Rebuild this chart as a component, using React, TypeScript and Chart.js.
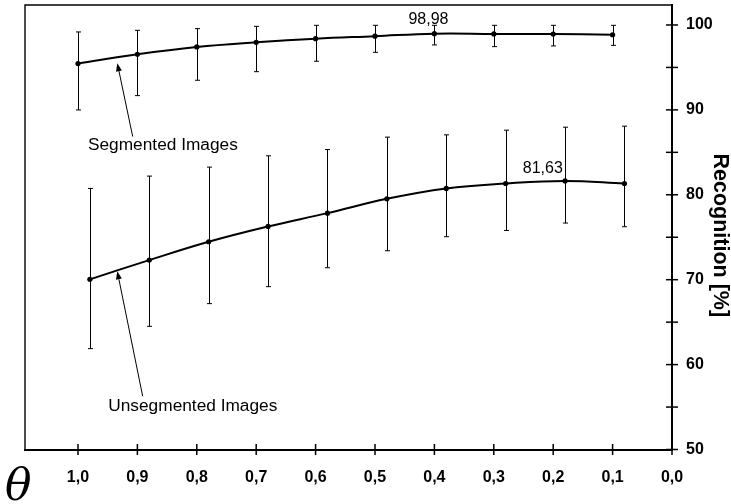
import React, { useEffect, useRef } from 'react';
import { Chart, registerables } from 'chart.js';

Chart.register(...registerables);

// ---- data ----
const X_TICKS = [0, 0.1, 0.2, 0.3, 0.4, 0.5, 0.6, 0.7, 0.8, 0.9, 1.0];
const Y_TICKS = [50, 55, 60, 65, 70, 75, 80, 85, 90, 95, 100];

const SEG_X = [1.0, 0.9, 0.8, 0.7, 0.6, 0.5, 0.4, 0.3, 0.2, 0.1];
const SEG_Y = [95.45, 96.55, 97.41, 97.96, 98.39, 98.68, 98.98, 98.95, 98.93, 98.85];
const SEG_LOW = [89.99, 91.68, 93.49, 94.5, 95.73, 96.78, 97.65, 97.45, 97.53, 97.6];
const SEG_HIGH = [99.18, 99.37, 99.57, 99.84, 99.96, 99.96, 99.96, 99.96, 99.96, 99.96];

const UNSEG_X = [0.98, 0.88, 0.78, 0.68, 0.58, 0.48, 0.38, 0.28, 0.18, 0.08];
const UNSEG_Y = [70.04, 72.31, 74.47, 76.27, 77.84, 79.53, 80.75, 81.33, 81.63, 81.33];
const UNSEG_LOW = [61.88, 64.51, 67.18, 69.18, 71.41, 73.41, 75.06, 75.8, 76.67, 76.24];
const UNSEG_HIGH = [80.75, 82.2, 83.26, 84.59, 85.33, 86.79, 87.06, 87.61, 87.96, 88.08];

const SERIES_LABELS = ['Segmented Images', 'Unsegmented Images'];
const Y_TITLE = 'Recognition [%]';
// annotation anchors in data units: [textX, textBaseY, arrowTailX, arrowTailY, arrowTipX, arrowTipY]
const SEG_NOTE = [0.9832, 85.29, 0.9079, 86.86, 0.9338, 95.49];
const UNSEG_NOTE = [0.949, 54.51, 0.8911, 56.27, 0.9338, 70.98];
// peak value labels: [x, y(baseline), text]
const PEAK_LABELS: [number, number, string][] = [
  [0.41, 100.12, '98,98'],
  [0.2175, 82.62, '81,63'],
];

const SANS = '"Liberation Sans", Arial, Helvetica, sans-serif';

const decorPlugin = {
  id: 'decor',
  beforeDatasetsDraw(chart: any) {
    const { ctx, chartArea } = chart;
    const xs = chart.scales.x;
    const ys = chart.scales.y;
    ctx.save();
    // top & left frame
    ctx.strokeStyle = '#000';
    ctx.lineWidth = 1.4;
    ctx.beginPath();
    ctx.moveTo(chartArea.left, chartArea.bottom);
    ctx.lineTo(chartArea.left, chartArea.top);
    ctx.lineTo(chartArea.right, chartArea.top);
    ctx.stroke();

    // tick marks crossing the axes
    ctx.lineWidth = 1.5;
    X_TICKS.forEach((v) => {
      const px = xs.getPixelForValue(v);
      ctx.beginPath();
      ctx.moveTo(px, chartArea.bottom - 5.5);
      ctx.lineTo(px, chartArea.bottom + 5.5);
      ctx.stroke();
    });
    Y_TICKS.forEach((v) => {
      const py = ys.getPixelForValue(v);
      ctx.beginPath();
      ctx.moveTo(chartArea.right - 6, py);
      ctx.lineTo(chartArea.right + 6, py);
      ctx.stroke();
    });

    // error bars
    ctx.lineWidth = 1;
    const bars = (X: number[], L: number[], H: number[]) => {
      X.forEach((x, i) => {
        const px = Math.round(xs.getPixelForValue(x)) + 0.5;
        const pl = ys.getPixelForValue(L[i]);
        const ph = ys.getPixelForValue(H[i]);
        ctx.beginPath();
        ctx.moveTo(px, pl);
        ctx.lineTo(px, ph);
        ctx.moveTo(px - 2.5, pl);
        ctx.lineTo(px + 2.5, pl);
        ctx.moveTo(px - 2.5, ph);
        ctx.lineTo(px + 2.5, ph);
        ctx.stroke();
      });
    };
    bars(SEG_X, SEG_LOW, SEG_HIGH);
    bars(UNSEG_X, UNSEG_LOW, UNSEG_HIGH);
    ctx.restore();
  },
  afterDraw(chart: any) {
    const { ctx, chartArea } = chart;
    const xs = chart.scales.x;
    const ys = chart.scales.y;
    ctx.save();
    ctx.fillStyle = '#000';
    ctx.strokeStyle = '#000';
    ctx.textBaseline = 'alphabetic';

    const note = (n: number[], text: string) => {
      const tx = xs.getPixelForValue(n[0]);
      const ty = ys.getPixelForValue(n[1]);
      ctx.font = `17.3px ${SANS}`;
      ctx.textAlign = 'left';
      ctx.fillText(text, tx, ty);
      const x0 = xs.getPixelForValue(n[2]);
      const y0 = ys.getPixelForValue(n[3]);
      const x1 = xs.getPixelForValue(n[4]);
      const y1 = ys.getPixelForValue(n[5]);
      const ang = Math.atan2(y1 - y0, x1 - x0);
      const hl = 8;
      const hw = 3;
      const bx = x1 - hl * Math.cos(ang);
      const by = y1 - hl * Math.sin(ang);
      ctx.lineWidth = 1;
      ctx.beginPath();
      ctx.moveTo(x0, y0);
      ctx.lineTo(bx, by);
      ctx.stroke();
      ctx.beginPath();
      ctx.moveTo(x1, y1);
      ctx.lineTo(bx + hw * Math.sin(ang), by - hw * Math.cos(ang));
      ctx.lineTo(bx - hw * Math.sin(ang), by + hw * Math.cos(ang));
      ctx.closePath();
      ctx.fill();
    };
    note(SEG_NOTE, SERIES_LABELS[0]);
    note(UNSEG_NOTE, SERIES_LABELS[1]);

    ctx.font = `16px ${SANS}`;
    ctx.textAlign = 'center';
    PEAK_LABELS.forEach(([x, y, t]) => {
      ctx.fillText(t, xs.getPixelForValue(x), ys.getPixelForValue(y));
    });

    // axis title (rotated, reading downward)
    ctx.save();
    ctx.translate(chartArea.right + 48, (chartArea.top + chartArea.bottom) / 2 + 8);
    ctx.rotate(Math.PI / 2);
    ctx.font = `bold 21.5px ${SANS}`;
    ctx.textAlign = 'center';
    ctx.textBaseline = 'middle';
    ctx.fillText(Y_TITLE, 0, 0);
    ctx.restore();

    // theta symbol
    ctx.textAlign = 'left';
    ctx.textBaseline = 'alphabetic';
    ctx.font = 'italic 44px "DejaVu Serif", "Liberation Serif", serif';
    ctx.fillText('θ', 5, 500);
    ctx.restore();
  },
};

export default function App() {
  const ref = useRef<HTMLCanvasElement | null>(null);
  useEffect(() => {
    if (!ref.current) return;
    const tickFont = { family: SANS, size: 16, weight: 'bold' as const };
    const chart = new Chart(ref.current, {
      type: 'line',
      data: {
        datasets: [
          {
            label: SERIES_LABELS[0],
            data: SEG_X.map((x, i) => ({ x, y: SEG_Y[i] })),
            borderColor: '#000',
            backgroundColor: '#000',
            borderWidth: 2,
            pointRadius: 2.6,
            pointBorderWidth: 0,
            tension: 0.4,
            fill: false,
          },
          {
            label: SERIES_LABELS[1],
            data: UNSEG_X.map((x, i) => ({ x, y: UNSEG_Y[i] })),
            borderColor: '#000',
            backgroundColor: '#000',
            borderWidth: 2,
            pointRadius: 2.6,
            pointBorderWidth: 0,
            tension: 0.4,
            fill: false,
          },
        ],
      },
      options: {
        responsive: false,
        animation: false,
        layout: { padding: { left: 25, top: 5, right: 0, bottom: 0 } },
        plugins: { legend: { display: false }, tooltip: { enabled: false } },
        scales: {
          x: {
            type: 'linear',
            position: 'bottom',
            reverse: true,
            min: 0,
            max: 1.0892,
            afterBuildTicks: (s: any) => {
              s.ticks = X_TICKS.map((v) => ({ value: v }));
            },
            afterFit: (s: any) => {
              s.height = 54.5;
              s.paddingLeft = 0;
              s.paddingRight = 0;
              s.paddingTop = 0;
              s.paddingBottom = 0;
            },
            grid: { display: false, drawTicks: false },
            border: { display: true, color: '#000', width: 2 },
            ticks: {
              color: '#000',
              font: tickFont,
              padding: 18,
              maxRotation: 0,
              autoSkip: false,
              callback: (v: any) => Number(v).toFixed(1).replace('.', ','),
            },
          },
          y: {
            type: 'linear',
            position: 'right',
            min: 50,
            max: 102.353,
            afterBuildTicks: (s: any) => {
              s.ticks = Y_TICKS.map((v) => ({ value: v }));
            },
            afterFit: (s: any) => {
              s.width = 59;
              s.paddingLeft = 0;
              s.paddingRight = 0;
              s.paddingTop = 0;
              s.paddingBottom = 0;
            },
            grid: { display: false, drawTicks: false },
            border: { display: true, color: '#000', width: 2 },
            ticks: {
              color: '#000',
              font: tickFont,
              padding: 14,
              autoSkip: false,
              callback: (v: any) => (Number(v) % 10 === 0 ? String(v) : ''),
            },
          },
        },
      },
      plugins: [decorPlugin],
    });
    return () => chart.destroy();
  }, []);
  return (
    <canvas
      ref={ref}
      width={731}
      height={504}
      style={{ position: 'absolute', left: 0, top: 0, display: 'block', background: '#fff' }}
    />
  );
}
